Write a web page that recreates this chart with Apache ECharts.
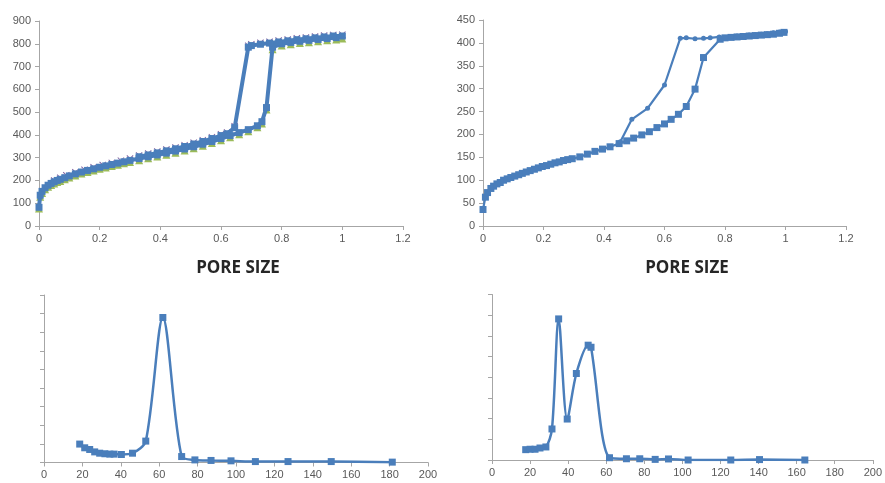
<!DOCTYPE html>
<html>
<head>
<meta charset="utf-8">
<script src="https://cdn.jsdelivr.net/npm/echarts@6/dist/echarts.min.js"></script>
<style>
html,body{margin:0;padding:0;background:#fff;}
#c{width:885px;height:483px;}
</style>
</head>
<body>
<div id="c"></div>
<script>
// ---------- Top-left isotherm ----------
var tlBlueX = [0,0.004,0.01,0.02,0.03,0.04,0.05,0.06,0.07,0.085,0.1,0.12,0.14,0.16,0.18,0.2,0.22,0.24,0.26,0.28,0.3,0.33,0.36,0.39,0.42,0.45,0.48,0.51,0.54,0.57,0.6,0.63,0.66,0.69,0.72,0.735,0.75,0.77,0.8,0.83,0.86,0.89,0.92,0.95,0.98,1.0,
  0.97,0.94,0.91,0.88,0.85,0.82,0.79,0.76,0.73,0.7,0.69,0.645,0.62,0.6,0.57,0.54,0.51,0.48,0.45,0.42,0.39,0.36,0.33];
var tlBlueY = [82,135,152,168,179,187,194,200,205,212,220,229,237,244,251,258,264,270,276,282,288,296,304,312,320,329,338,348,359,371,384,397,410,423,440,458,520,785,800,806,811,815,819,823,827,834,
  834,830,826,822,818,813,808,803,798,792,785,432,405,397,384,371,360,349,339,330,321,312,304];
var tlGreenX = [0,0.004,0.01,0.02,0.03,0.04,0.05,0.06,0.07,0.085,0.1,0.12,0.14,0.16,0.18,0.2,0.22,0.24,0.26,0.28,0.3,0.33,0.36,0.39,0.42,0.45,0.48,0.51,0.54,0.57,0.6,0.63,0.66,0.69,0.72,0.735,0.75,0.77,0.8,0.83,0.86,0.89,0.92,0.95,0.98,1.0];
var tlGreenY = [77,128,145,161,172,180,187,193,198,205,213,222,230,237,244,251,257,263,269,275,281,289,297,305,313,322,331,341,352,364,377,390,403,416,433,450,512,776,792,798,803,807,811,815,819,823];
var tlPurpleX = [1.0,0.97,0.94,0.91,0.88,0.85,0.82,0.79,0.76,0.73,0.7,0.69,0.645,0.62,0.6,0.57,0.54,0.51,0.48,0.45,0.42,0.39,0.36,0.33,0.3,0.27,0.24,0.21,0.18,0.15,0.12,0.09,0.07,0.05];
var tlPurpleY = [840,839,836,832,828,824,819,814,809,804,798,791,438,411,403,390,377,366,355,345,336,327,318,310,296,287,277,268,258,247,236,223,212,200];

// ---------- Top-right isotherm ----------
var trAdsX = [0,0.008,0.015,0.026,0.035,0.046,0.057,0.068,0.08,0.092,0.105,0.118,0.13,0.143,0.156,0.17,0.183,0.196,0.21,0.224,0.238,0.252,0.266,0.28,0.295,0.32,0.345,0.37,0.395,0.42,0.45,0.475,0.498,0.525,0.55,0.575,0.6,0.622,0.646,0.672,0.701,0.729,0.784,0.8,0.82,0.84,0.86,0.88,0.9,0.92,0.94,0.96,0.98,0.995];
var trAdsY = [36,63,73,82,87,92,95,100,103,106,109,112,115,118,121,124,127,130,132,135,138,140,143,145,147,151,157,163,168,173,180,186,192,199,206,215,223,233,244,261,299,368,408,411,412,413,414,415,416,417,418,419,421,423];
var trDesX = [1.0,0.98,0.96,0.94,0.92,0.9,0.88,0.86,0.84,0.82,0.781,0.751,0.729,0.701,0.672,0.652,0.6,0.544,0.492,0.454];
var trDesY = [425,424,422,420,419,418,417,416,415,414,413,411,410,409,411,410,308,257,233,184];

// ---------- Bottom-left pore size distribution ----------
var blX = [18.6,21.2,23.8,26.4,29,31.7,34.3,36.5,40.3,46.1,53,61.9,71.7,78.6,87,97.4,110.1,127.1,149.6,181.4];
var blY = [0.99,0.79,0.70,0.57,0.50,0.47,0.45,0.45,0.43,0.50,1.15,7.79,0.32,0.14,0.11,0.09,0.05,0.05,0.05,0.02];

// ---------- Bottom-right pore size distribution ----------
var brX = [17.7,20,22.6,25.2,28.3,31.5,35,39.5,44.3,50.5,52,61.7,70.6,77.6,85.7,92.7,103,125.4,140.5,164.3];
var brY = [0.50,0.52,0.52,0.58,0.63,1.50,6.82,1.98,4.18,5.55,5.45,0.11,0.06,0.06,0.03,0.05,0,0,0.02,0];

var titleText = 'PORE SIZE';

function zip(xs, ys){ return xs.map(function(x,i){ return [x, ys[i]]; }); }

var BLUE = '#4A7EBB';
var AXIS = '#A6A6A6';
var LABEL = '#595959';
var FONT = 'Liberation Sans';
var crossPath = 'path://M1,0 L5,4 L9,0 L10,1 L6,5 L10,9 L9,10 L5,6 L1,10 L0,9 L4,5 L0,1 Z';

function xAx(gi, min, max, interval){
  return {
    type:'value', gridIndex:gi, min:min, max:max, interval:interval,
    axisLine:{show:true, onZero:false, lineStyle:{color:AXIS, width:1}},
    axisTick:{show:true, length:4, lineStyle:{color:AXIS}},
    axisLabel:{color:LABEL, fontFamily:FONT, fontSize:11, margin:7},
    splitLine:{show:false}
  };
}
function yAx(gi, min, max, interval, showLabel){
  return {
    type:'value', gridIndex:gi, min:min, max:max, interval:interval,
    axisLine:{show:true, lineStyle:{color:AXIS, width:1}},
    axisTick:{show:true, length:4, lineStyle:{color:AXIS}},
    axisLabel:{show:showLabel, color:LABEL, fontFamily:FONT, fontSize:11, margin:8},
    splitLine:{show:false}
  };
}

var chart = echarts.init(document.getElementById('c'), null, {renderer:'canvas'});
chart.setOption({
  animation:false,
  backgroundColor:'#ffffff',
  grid:[
    {left:39, top:21, width:364, height:205},
    {left:483, top:20, width:363, height:206},
    {left:44, top:295, width:384, height:167.5},
    {left:492, top:294.5, width:383, height:165.5}
  ],
  xAxis:[ xAx(0,0,1.2,0.2), xAx(1,0,1.2,0.2), xAx(2,0,200,20), xAx(3,0,200,20) ],
  yAxis:[ yAx(0,0,900,100,true), yAx(1,0,450,50,true), yAx(2,0,9,1,false), yAx(3,0,8,1,false) ],
  graphic:[
    {type:'text', style:{text:titleText, x:238, y:268, textAlign:'center', textVerticalAlign:'middle', fill:'#262626', font:'bold 17px "Open Sans"'}},
    {type:'text', style:{text:titleText, x:687, y:268, textAlign:'center', textVerticalAlign:'middle', fill:'#262626', font:'bold 17px "Open Sans"'}}
  ],
  series:[
    {type:'line', xAxisIndex:0, yAxisIndex:0, data:zip(tlGreenX, tlGreenY), symbol:'triangle', symbolSize:8,
     itemStyle:{color:'#9BBB59'}, lineStyle:{width:0, opacity:0}, z:2},
    {type:'line', xAxisIndex:0, yAxisIndex:0, data:zip(tlPurpleX, tlPurpleY), symbol:crossPath, symbolSize:7,
     itemStyle:{color:'#8064A2'}, lineStyle:{width:0, opacity:0}, z:3},
    {type:'line', xAxisIndex:0, yAxisIndex:0, data:zip(tlBlueX, tlBlueY), symbol:'rect', symbolSize:7,
     itemStyle:{color:BLUE}, lineStyle:{color:BLUE, width:4}, z:4},
    {type:'line', xAxisIndex:1, yAxisIndex:1, data:zip(trAdsX, trAdsY), symbol:'rect', symbolSize:7,
     itemStyle:{color:BLUE}, lineStyle:{color:BLUE, width:2.2}, z:4},
    {type:'line', xAxisIndex:1, yAxisIndex:1, data:zip(trDesX, trDesY), symbol:'circle', symbolSize:5,
     itemStyle:{color:BLUE}, lineStyle:{color:BLUE, width:2.2}, z:4},
    {type:'line', xAxisIndex:2, yAxisIndex:2, data:zip(blX, blY), symbol:'rect', symbolSize:7, smooth:0.3,
     itemStyle:{color:BLUE}, lineStyle:{color:BLUE, width:2.5}, z:4},
    {type:'line', xAxisIndex:3, yAxisIndex:3, data:zip(brX, brY), symbol:'rect', symbolSize:7, smooth:0.3,
     itemStyle:{color:BLUE}, lineStyle:{color:BLUE, width:2.5}, z:4}
  ]
});
</script>
</body>
</html>
